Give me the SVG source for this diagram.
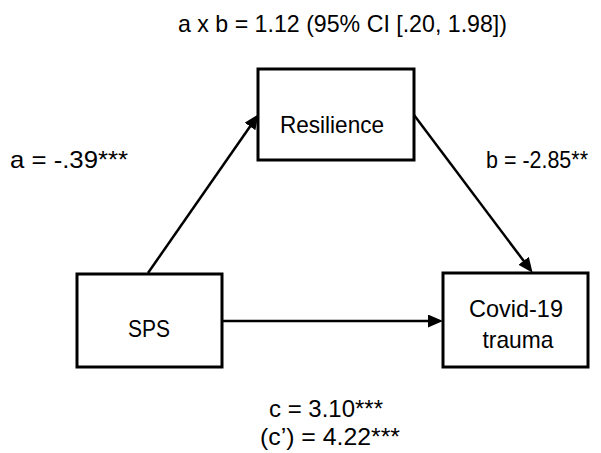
<svg xmlns="http://www.w3.org/2000/svg" width="601" height="453" viewBox="0 0 601 453">
<style>
  .box { fill: #ffffff; stroke: #000000; stroke-width: 3; }
  .lbl { font-family: "Liberation Sans", Arial, sans-serif; font-size: 24px; fill: #000000; }
  .mid { text-anchor: middle; }
  .edge { stroke: #000000; stroke-width: 2.5; fill: none; marker-end: url(#arrow); }
</style>
<defs>
  <marker id="arrow" markerUnits="userSpaceOnUse" markerWidth="17" markerHeight="14" refX="4" refY="6.5" orient="auto">
    <path d="M0,0 L15,6.5 L0,13 z" fill="#000000"/>
  </marker>
</defs>
<rect width="601" height="453" fill="#ffffff"/>
<g id="connectors">
  <line class="edge" x1="148" y1="273" x2="252.3" y2="123.2"/>
  <line class="edge" x1="414" y1="115" x2="526" y2="264"/>
  <line class="edge" x1="222" y1="321" x2="432" y2="321"/>
</g>
<g id="resilience">
  <rect class="box" x="258" y="69" width="156" height="91"/>
  <text class="lbl mid" x="332" y="133" textLength="104" lengthAdjust="spacingAndGlyphs">Resilience</text>
</g>
<g id="sps">
  <rect class="box" x="77" y="274" width="145" height="93"/>
  <text class="lbl mid" x="149" y="337" textLength="42" lengthAdjust="spacingAndGlyphs">SPS</text>
</g>
<g id="covid">
  <rect class="box" x="443" y="273" width="145" height="94"/>
  <text class="lbl mid" x="516" y="317" textLength="94" lengthAdjust="spacingAndGlyphs">Covid-19</text>
  <text class="lbl mid" x="518" y="348" textLength="71" lengthAdjust="spacingAndGlyphs">trauma</text>
</g>
<g id="labels">
  <text class="lbl mid" x="342.5" y="32" textLength="329" lengthAdjust="spacingAndGlyphs">a x b = 1.12 (95% CI [.20, 1.98])</text>
  <text class="lbl" x="10" y="168" textLength="118" lengthAdjust="spacingAndGlyphs">a = -.39***</text>
  <text class="lbl" x="486" y="168" font-size="22" textLength="102" lengthAdjust="spacingAndGlyphs">b = -2.85**</text>
  <text class="lbl" x="269" y="417" textLength="114" lengthAdjust="spacingAndGlyphs">c = 3.10***</text>
  <text class="lbl" x="260" y="445" textLength="140" lengthAdjust="spacingAndGlyphs">(c’) = 4.22***</text>
</g>
</svg>
